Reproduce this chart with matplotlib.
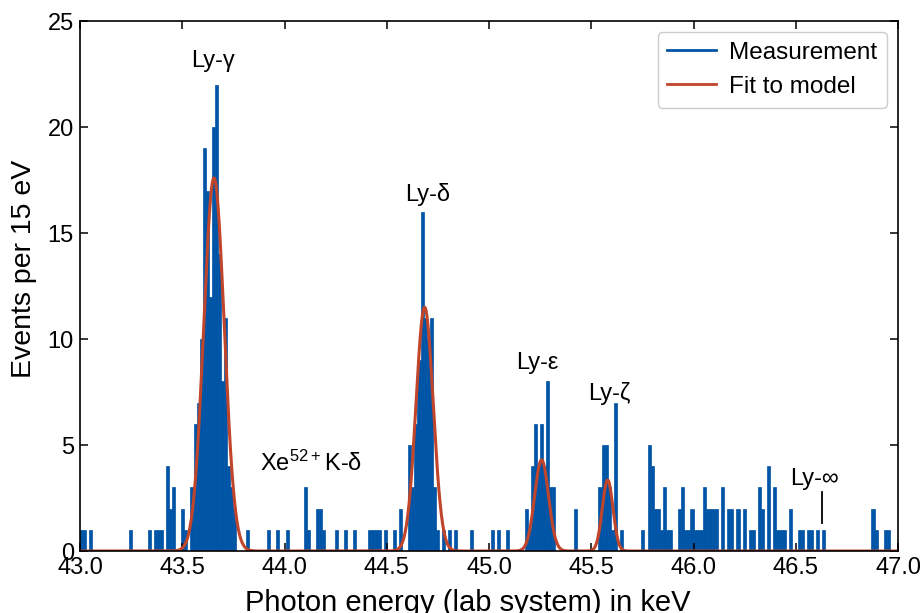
import numpy as np
import matplotlib
matplotlib.use("Agg")
import matplotlib.pyplot as plt
from matplotlib.lines import Line2D

plt.rcParams["font.family"] = ["Liberation Sans", "DejaVu Sans"]
plt.rcParams["mathtext.default"] = "regular"
plt.rcParams["font.size"] = 17

# histogram: 15 eV bins starting at 43.0 keV, only non-empty bins listed
bin_width = 0.015
n_bins = 267
bin_index = [
    0, 1, 3, 16, 22, 24, 25, 26, 28, 29, 30, 33, 34, 36, 37, 38, 39, 40, 41, 42,
    43, 44, 45, 46, 47, 48, 49, 50, 54, 61, 64, 67, 73, 74, 77, 78, 79, 83, 86, 89,
    94, 95, 96, 97, 99, 102, 104, 107, 108, 109, 110, 111, 112, 113, 114, 115, 116,
    118, 120, 122, 127, 134, 136, 139, 145, 146, 147, 148, 149, 150, 151, 152, 153,
    154, 161, 169, 170, 171, 172, 173, 174, 176, 183, 185, 186, 187, 188, 189, 190,
    191, 192, 195, 196, 197, 198, 199, 200, 201, 202, 203, 204, 205, 206, 207, 209,
    211, 212, 214, 216, 218, 219, 221, 222, 224, 226, 227, 228, 229, 231, 234, 235,
    237, 238, 240, 242, 258, 259, 262, 263,
]
bin_counts = [
    1, 1, 1, 1, 1, 1, 1, 1, 4, 2, 3, 2, 1, 3, 6, 7, 10, 19, 17, 12,
    20, 22, 14, 8, 11, 4, 3, 2, 1, 1, 1, 1, 3, 1, 2, 2, 1, 1, 1, 1,
    1, 1, 1, 1, 1, 1, 2, 5, 3, 6, 9, 16, 11, 10, 11, 3, 1,
    1, 1, 1, 1, 1, 1, 1, 2, 1, 4, 6, 4, 6, 4, 8, 3,
    3, 2, 3, 5, 5, 3, 1, 7, 1, 1, 5, 4, 2, 2, 1, 3,
    1, 1, 2, 3, 1, 1, 2, 1, 1, 1, 3, 2, 2, 2, 2, 3,
    2, 2, 2, 2, 1, 1, 3, 2, 4, 3, 1, 1, 1, 2, 1, 1,
    1, 1, 1, 1, 2, 1, 1, 1,
]

# fitted line model
peak_names = ["Ly-γ", "Ly-δ", "Ly-ε", "Ly-ζ"]
peak_center = [43.655, 44.685, 45.257, 45.580]
peak_height = [17.6, 11.5, 4.3, 3.35]
peak_sigma = [0.050, 0.042, 0.034, 0.026]

# line labels: (text, x, y)
labels = [
    ("Ly-γ", 43.65, 23.1),
    ("Ly-δ", 44.70, 16.8),
    ("Ly-ε", 45.235, 8.85),
    ("Ly-ζ", 45.59, 7.45),
    ("Xe$^{52+}$K-δ", 44.13, 4.15),
    ("Ly-∞", 46.59, 3.4),
]
ly_inf_x = 46.63

blue = "#0054a6"
red = "#c0452b"

counts = np.zeros(n_bins)
counts[bin_index] = bin_counts
edges = 43.0 + bin_width * np.arange(n_bins)

x = np.linspace(43.0, 47.0, 2000)
fit = np.zeros_like(x)
for c, h, s in zip(peak_center, peak_height, peak_sigma):
    fit += h * np.exp(-0.5 * ((x - c) / s) ** 2)

fig = plt.figure(figsize=(9.22, 6.13), dpi=100)
ax = fig.add_axes([0.0868, 0.1011, 0.8872, 0.8646])

ax.bar(edges, counts, width=bin_width, align="edge", color=blue,
       edgecolor=blue, linewidth=0.5)
ax.plot(x, fit, color=red, lw=2.2)

for txt, tx, ty in labels:
    ax.text(tx, ty, txt, ha="center", va="center", fontsize=17)
ax.plot([ly_inf_x, ly_inf_x], [1.3, 2.8], color="black", lw=1.3)

ax.set_xlim(43.0, 47.0)
ax.set_ylim(0, 25)
ax.set_xticks(np.arange(43.0, 47.01, 0.5))
ax.set_xticklabels([f"{v:.1f}" for v in np.arange(43.0, 47.01, 0.5)])
ax.set_yticks(np.arange(0, 26, 5))
ax.tick_params(direction="in", top=True, right=True, length=6, width=1.1,
               pad=4.5, labelsize=17)
for sp in ax.spines.values():
    sp.set_linewidth(1.2)

ax.set_xlabel("Photon energy (lab system) in keV", fontsize=21)
ax.xaxis.set_label_coords(0.474, -0.071)
ax.set_ylabel("Events per 15 eV", fontsize=20.5)
ax.yaxis.set_label_coords(-0.053, 0.532)

handles = [Line2D([], [], color=blue, lw=2), Line2D([], [], color=red, lw=2)]
ax.legend(handles, ["Measurement", "Fit to model"], loc="upper right",
          fontsize=17.5, handlelength=2.0, handletextpad=0.55, framealpha=1,
          edgecolor="#cccccc", borderaxespad=0.45)

fig.savefig("out.png", dpi=100)
